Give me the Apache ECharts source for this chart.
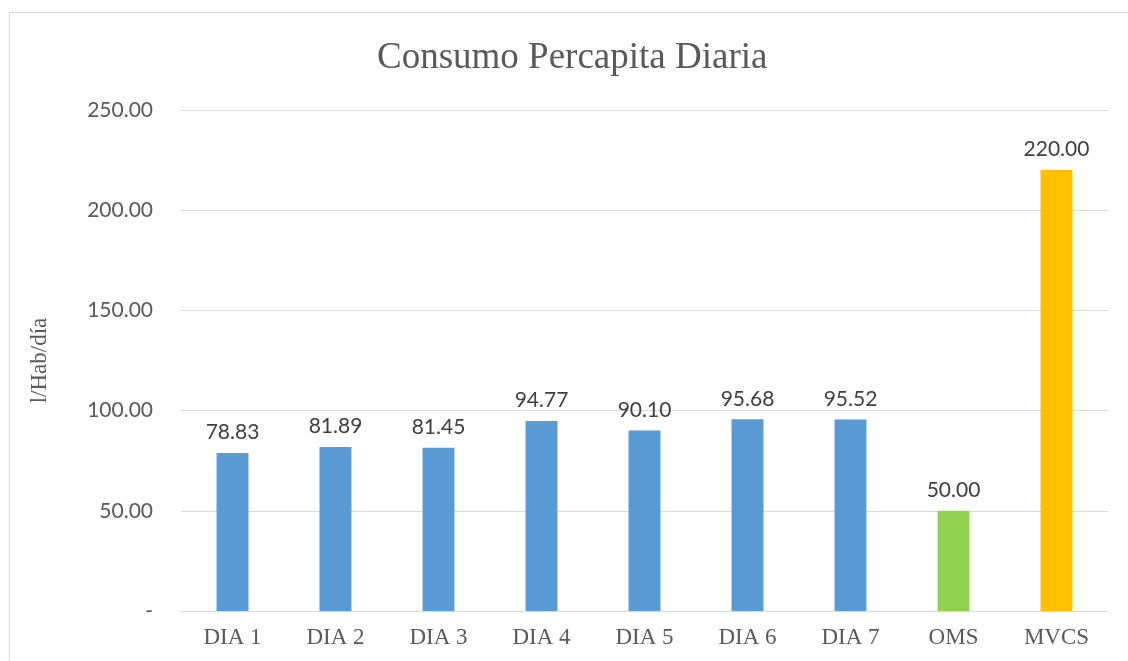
<!DOCTYPE html>
<html>
<head>
<meta charset="utf-8">
<script src="https://cdn.jsdelivr.net/npm/echarts@6/dist/echarts.min.js"></script>
<style>
  html, body { margin: 0; padding: 0; background: #fff; }
  #chart { width: 1128px; height: 661px; }
</style>
</head>
<body>
<div id="chart"></div>
<script>
// datos del grafico
var categorias = ['DIA 1', 'DIA 2', 'DIA 3', 'DIA 4', 'DIA 5', 'DIA 6', 'DIA 7', 'OMS', 'MVCS']
var consumo = [78.83, 81.89, 81.45, 94.77, 90.10, 95.68, 95.52, 50.00, 220.00]
var colores = ['#5B9BD5', '#5B9BD5', '#5B9BD5', '#5B9BD5', '#5B9BD5', '#5B9BD5', '#5B9BD5', '#92D050', '#FFC000']

var chart = echarts.init(document.getElementById('chart'))
var option = {
  animation: false,
  backgroundColor: '#fff',
  title: {
    text: 'Consumo Percapita Diaria',
    left: 372,
    top: 35,
    textStyle: {
      fontFamily: 'Liberation Serif',
      fontWeight: 'normal',
      fontSize: 37,
      color: '#595959'
    }
  },
  graphic: [{
    type: 'rect',
    shape: { x: 9.5, y: 12.5, width: 1140, height: 680 },
    style: { fill: 'none', stroke: '#d9d9d9', lineWidth: 1 },
    silent: true
  }],
  grid: {
    left: 181,
    right: 20,
    top: 110,
    bottom: 50
  },
  xAxis: {
    type: 'category',
    data: categorias,
    axisTick: { show: false },
    axisLine: { lineStyle: { color: '#d9d9d9', width: 1 } },
    axisLabel: {
      fontFamily: 'Liberation Serif',
      fontSize: 23,
      color: '#595959',
      margin: 15
    }
  },
  yAxis: {
    type: 'value',
    min: 0,
    max: 250,
    interval: 50,
    name: 'l/Hab/día',
    nameLocation: 'middle',
    nameGap: 130,
    nameTextStyle: {
      fontFamily: 'Liberation Serif',
      fontSize: 23,
      color: '#595959'
    },
    axisLine: { show: false },
    axisTick: { show: false },
    splitLine: { lineStyle: { color: '#d9d9d9', width: 1 } },
    axisLabel: {
      fontFamily: 'Lato',
      fontSize: 21,
      color: '#595959',
      margin: 28,
      formatter: function (v) { return v === 0 ? '-' : v.toFixed(2) }
    }
  },
  series: [{
    type: 'bar',
    barWidth: '31%',
    data: consumo.map(function (v, i) {
      return { value: v, itemStyle: { color: colores[i] } }
    }),
    label: {
      show: true,
      position: 'top',
      distance: 10,
      fontFamily: 'Lato',
      fontSize: 21,
      color: '#404040',
      formatter: function (p) { return p.value.toFixed(2) }
    }
  }]
}
chart.setOption(option)
</script>
</body>
</html>
